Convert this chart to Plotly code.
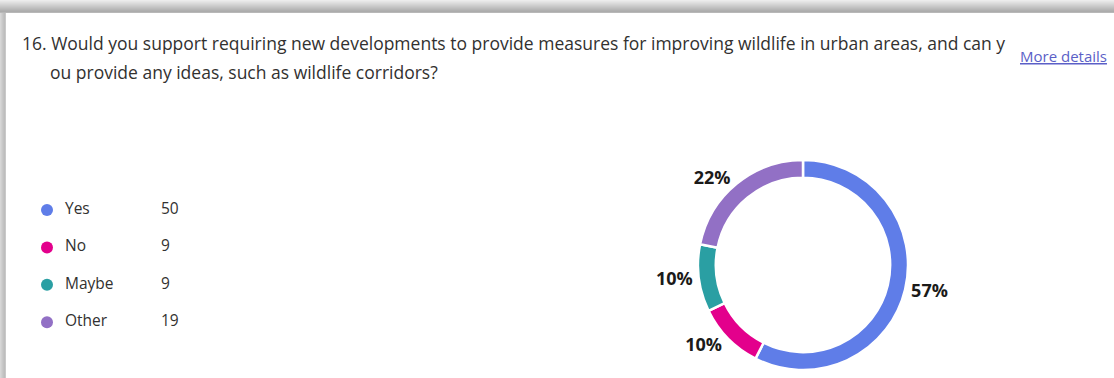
import plotly.graph_objects as go

W, H = 1114, 378

# Survey question and response data
question_line1 = "16. Would you support requiring new developments to provide measures for improving wildlife in urban areas, and can y"
question_line2 = "ou provide any ideas, such as wildlife corridors?"
categories = ["Yes", "No", "Maybe", "Other"]
counts = [50, 9, 9, 19]
colors = ["#5F7DE8", "#E3008C", "#2A9FA3", "#9270C5"]

FONT = "Open Sans, Noto Sans, sans-serif"
TEXT_COLOR = "#323130"


def px_x(x):
    return x / W


def px_y(y):
    return 1 - y / H


fig = go.Figure()

# Donut chart of responses
cx, cy, r = 803, 265, 105
fig.add_trace(go.Pie(
    labels=categories,
    values=counts,
    sort=False,
    direction="clockwise",
    rotation=0,
    hole=0.83,
    marker=dict(colors=colors, line=dict(color="white", width=2.5)),
    textposition="outside",
    texttemplate="%{percent:.0%}",
    textfont=dict(family=FONT, size=18, color="#1b1a19", weight="bold"),
    domain=dict(x=[px_x(cx - r), px_x(cx + r)], y=[px_y(cy + r), px_y(cy - r)]),
    showlegend=False,
    hoverinfo="label+value+percent",
))

# Left-hand legend: coloured dot, label and count on each row
LEG_TOP, ROW_GAP = 210, 37.4
row_y = [LEG_TOP + i * ROW_GAP for i in range(len(categories))]
fig.add_trace(go.Scatter(
    x=[47] * len(categories), y=row_y, mode="markers",
    marker=dict(size=12, color=colors), xaxis="x", yaxis="y",
    showlegend=False, hoverinfo="skip",
))
fig.add_trace(go.Scatter(
    x=[65] * len(categories), y=row_y, mode="text", text=categories,
    textposition="middle right",
    textfont=dict(family=FONT, size=15.5, color=TEXT_COLOR),
    xaxis="x", yaxis="y", showlegend=False, hoverinfo="skip",
))
fig.add_trace(go.Scatter(
    x=[161] * len(categories), y=row_y, mode="text", text=[str(c) for c in counts],
    textposition="middle right",
    textfont=dict(family=FONT, size=15.5, color=TEXT_COLOR),
    xaxis="x", yaxis="y", showlegend=False, hoverinfo="skip",
))

shapes = []
# Card shadow along the top edge (light to dark gradient)
band = ["#ececec", "#e6e6e6", "#e0e0e0", "#dadada", "#d4d4d4", "#cecece",
        "#c8c8c8", "#c2c2c2", "#bcbcbc", "#b6b6b6", "#b0b0b0", "#acacac", "#b8b8b8"]
for i, c in enumerate(band):
    shapes.append(dict(type="rect", xref="paper", yref="paper",
                       x0=0, x1=1, y0=px_y(i + 1), y1=px_y(i),
                       fillcolor=c, line=dict(width=0), layer="below"))
# Shadow along the left edge
left = ["#d6d6d6", "#cfcfcf", "#c8c8c8", "#c2c2c2", "#bdbdbd", "#c9c9c9"]
for i, c in enumerate(left):
    shapes.append(dict(type="rect", xref="paper", yref="paper",
                       x0=px_x(i), x1=px_x(i + 1), y0=0, y1=px_y(13),
                       fillcolor=c, line=dict(width=0), layer="below"))

annotations = [
    dict(text=question_line1, x=px_x(20), y=px_y(43), xref="paper", yref="paper",
         xanchor="left", yanchor="middle", showarrow=False,
         font=dict(family=FONT, size=17.5, color=TEXT_COLOR)),
    dict(text=question_line2, x=px_x(48), y=px_y(72), xref="paper", yref="paper",
         xanchor="left", yanchor="middle", showarrow=False,
         font=dict(family=FONT, size=17.5, color=TEXT_COLOR)),
    dict(text="<u>More details</u>", x=px_x(1109), y=px_y(56), xref="paper", yref="paper",
         xanchor="right", yanchor="middle", showarrow=False,
         font=dict(family=FONT, size=15, color="#5B5FC7")),
]

fig.update_layout(
    width=W, height=H,
    margin=dict(l=0, r=0, t=0, b=0),
    paper_bgcolor="white", plot_bgcolor="rgba(0,0,0,0)",
    xaxis=dict(range=[0, W], domain=[0, 1], visible=False, fixedrange=True),
    yaxis=dict(range=[H, 0], domain=[0, 1], visible=False, fixedrange=True),
    shapes=shapes,
    annotations=annotations,
)

fig.write_html("out.html", config={"displayModeBar": False})
